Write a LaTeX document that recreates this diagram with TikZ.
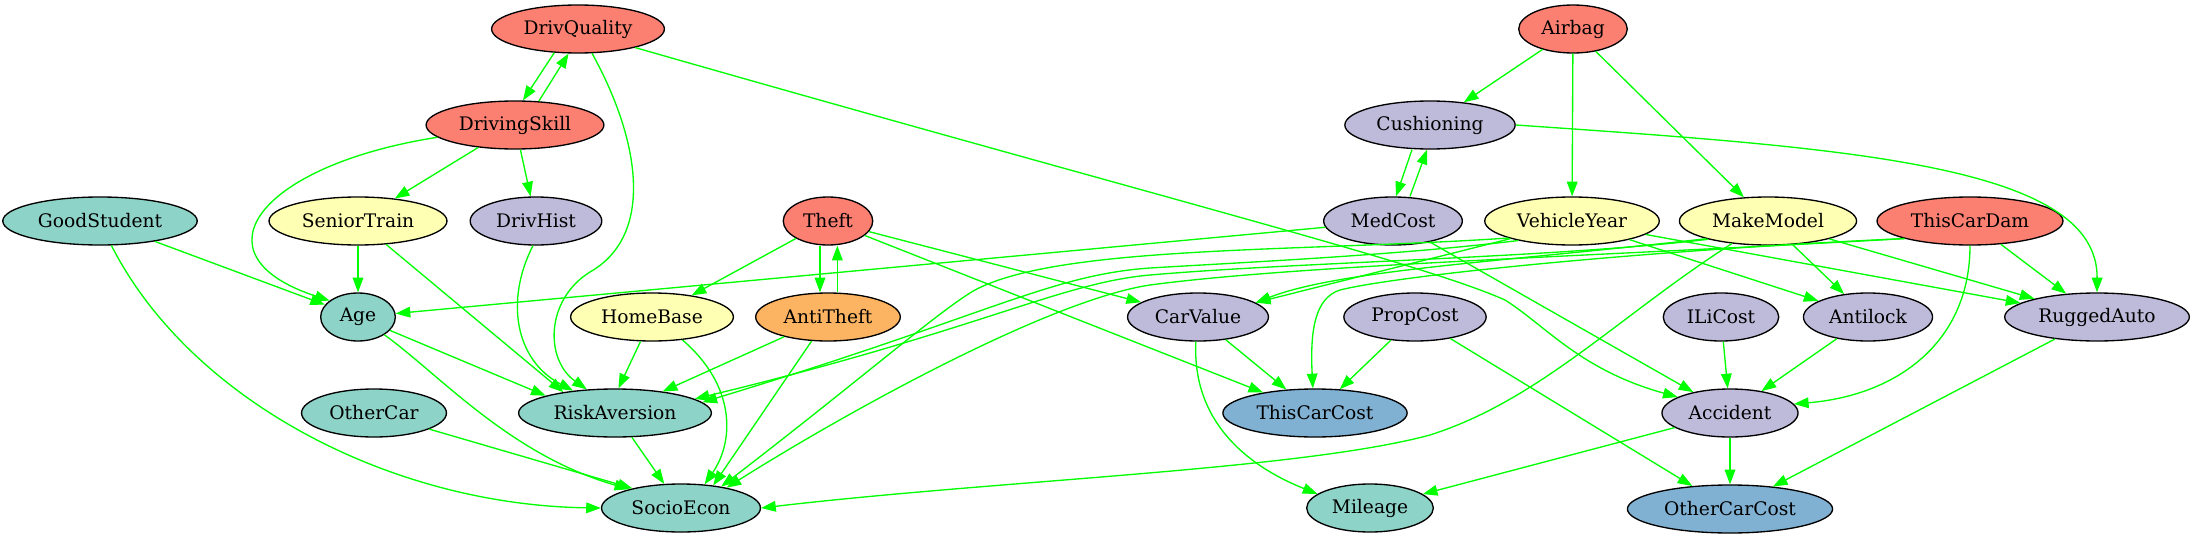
\documentclass[tikz,border=0pt]{standalone}
\usepackage{fontspec}
\setmainfont{DejaVu Serif}
\usepackage{tikz}
\usetikzlibrary{shapes.geometric, arrows.meta, positioning}

\definecolor{setred}{HTML}{FB8072}
\definecolor{setteal}{HTML}{8DD3C7}
\definecolor{setyellow}{HTML}{FFFFB3}
\definecolor{setpurple}{HTML}{BEBADA}
\definecolor{setblue}{HTML}{80B1D3}
\definecolor{setorange}{HTML}{FDB462}
\definecolor{linkgreen}{HTML}{00FF00}

\begin{document}
\begin{tikzpicture}[
    x=0.75pt, y=-0.75pt,
    var/.style={ellipse, draw, line width=1pt, font=\fontsize{14pt}{16pt}\selectfont,
        inner xsep=5pt, inner ysep=2pt, minimum width=56pt, minimum height=36pt},
    redvar/.style={var, fill=setred},
    tealvar/.style={var, fill=setteal},
    yellowvar/.style={var, fill=setyellow},
    purplevar/.style={var, fill=setpurple},
    bluevar/.style={var, fill=setblue},
    orangevar/.style={var, fill=setorange},
    dep/.style={draw=linkgreen, line width=1pt, -{Triangle[length=11pt, width=8pt]}}
]
    \useasboundingbox (0,0) rectangle (2193,539);

    % Top rows
    \node[redvar] (DrivQuality) at (578,29) {DrivQuality};
    \node[redvar] (Airbag) at (1573,29) {Airbag};
    \node[redvar] (DrivingSkill) at (515,125) {DrivingSkill};
    \node[purplevar] (Cushioning) at (1430,125) {Cushioning};

    % Third row
    \node[tealvar] (GoodStudent) at (100,221) {GoodStudent};
    \node[yellowvar] (SeniorTrain) at (358,221) {SeniorTrain};
    \node[purplevar] (DrivHist) at (536,221) {DrivHist};
    \node[redvar] (Theft) at (828,221) {Theft};
    \node[purplevar] (MedCost) at (1393,221) {MedCost};
    \node[yellowvar] (VehicleYear) at (1572,221) {VehicleYear};
    \node[yellowvar] (MakeModel) at (1768,221) {MakeModel};
    \node[redvar] (ThisCarDam) at (1970,221) {ThisCarDam};

    % Fourth row
    \node[tealvar] (Age) [below=35pt of SeniorTrain] {Age};
    \node[yellowvar] (HomeBase) at (652,317) {HomeBase};
    \node[orangevar] (AntiTheft) [below=35pt of Theft] {AntiTheft};
    \node[purplevar] (CarValue) at (1198,317) {CarValue};
    \node[purplevar] (PropCost) at (1415,317) {PropCost};
    \node[purplevar] (ILiCost) at (1721,317) {ILiCost};
    \node[purplevar] (Antilock) at (1868,317) {Antilock};
    \node[purplevar] (RuggedAuto) at (2097,317) {RuggedAuto};

    % Bottom rows
    \node[tealvar] (OtherCar) at (374,413) {OtherCar};
    \node[tealvar] (RiskAversion) at (615,413) {RiskAversion};
    \node[bluevar] (ThisCarCost) at (1315,413) {ThisCarCost};
    \node[purplevar] (Accident) at (1730,413) {Accident};
    \node[tealvar] (SocioEcon) at (681,508) {SocioEcon};
    \node[tealvar] (Mileage) at (1370,508) {Mileage};
    \node[bluevar] (OtherCarCost) [below=35pt of Accident] {OtherCarCost};

    % Driver side
    \draw[dep] (DrivQuality.225) -- (DrivingSkill.72);
    \draw[dep] (DrivingSkill.45) -- (DrivQuality.249);
    \draw[dep] (DrivQuality.300) .. controls (640,140) and (655,235) .. (590,272)
        .. controls (545,300) and (545,360) .. (RiskAversion.140);
    \draw[dep] (DrivQuality.342) .. controls (1150,195) and (1420,262) .. (1505,300)
        .. controls (1545,325) and (1580,370) .. (Accident.163);
    \draw[dep] (DrivingSkill) -- (SeniorTrain);
    \draw[dep] (DrivingSkill) -- (DrivHist);
    \draw[dep] (DrivingSkill.189) .. controls (260,165) and (190,255) .. (Age.150);
    \draw[dep] (GoodStudent) -- (Age);
    \draw[dep] (GoodStudent.295) .. controls (190,400) and (390,505) .. (SocioEcon.west);
    \draw[dep] (SeniorTrain) -- (Age);
    \draw[dep] (SeniorTrain) -- (RiskAversion.158);
    \draw[dep] (DrivHist.263) .. controls (505,300) and (515,360) .. (RiskAversion.152);
    \draw[dep] (Age) -- (RiskAversion.166);
    \draw[dep] (Age.326) .. controls (440,375) and (510,455) .. (SocioEcon.160);
    \draw[dep] (OtherCar) -- (SocioEcon.158);
    \draw[dep] (RiskAversion) -- (SocioEcon);

    % Theft
    \draw[dep] (Theft) -- (HomeBase);
    \draw[dep] ([xshift=-6pt]Theft.south) -- ([xshift=-6pt]AntiTheft.north);
    \draw[dep] ([xshift=7pt]AntiTheft.north) -- ([xshift=7pt]Theft.south);
    \draw[dep] (Theft) -- (CarValue);
    \draw[dep] (Theft) -- (ThisCarCost);
    \draw[dep] (HomeBase) -- (RiskAversion.82);
    \draw[dep] (HomeBase.323) .. controls (735,385) and (735,440) .. (SocioEcon.45);
    \draw[dep] (AntiTheft) -- (RiskAversion);
    \draw[dep] (AntiTheft) -- (SocioEcon.35);

    % Medical cost and airbag
    \draw[dep] (MedCost) -- (Age);
    \draw[dep] ([xshift=-13.5pt]Cushioning.south) -- ([xshift=2.25pt]MedCost.north);
    \draw[dep] ([xshift=12.75pt]MedCost.north) -- ([xshift=-2.25pt]Cushioning.south);
    \draw[dep] (MedCost) -- (Accident);
    \draw[dep] (Airbag) -- (Cushioning);
    \draw[dep] (Airbag) -- (VehicleYear);
    \draw[dep] (Airbag) -- (MakeModel);
    \draw[dep] (Cushioning.east) .. controls (1850,148) and (2098,165) .. (RuggedAuto.north);

    % Vehicle
    \draw[dep] (VehicleYear.196) -- (CarValue.14);
    \draw[dep] (VehicleYear.195) .. controls (1300,252) and (1060,245) .. (975,290)
        .. controls (940,310) and (860,380) .. (SocioEcon.28);
    \draw[dep] (VehicleYear.200) .. controls (1400,255) and (1250,262) .. (1150,268)
        .. controls (1050,275) and (990,315) .. (RiskAversion.7);
    \draw[dep] (VehicleYear) -- (Antilock);
    \draw[dep] (VehicleYear) -- (RuggedAuto);
    \draw[dep] (MakeModel.196) .. controls (1500,262) and (1340,270) .. (CarValue.14);
    \draw[dep] (MakeModel.197) .. controls (1550,258) and (1300,262) .. (1150,275)
        .. controls (1060,283) and (980,330) .. (RiskAversion.10);
    \draw[dep] (MakeModel.212) .. controls (1620,315) and (1540,400) .. (1430,435)
        .. controls (1300,470) and (1000,480) .. (SocioEcon.east);
    \draw[dep] (MakeModel) -- (Antilock);
    \draw[dep] (MakeModel) -- (RuggedAuto);
    \draw[dep] (ThisCarDam.195) .. controls (1650,250) and (1400,275) .. (1340,290)
        .. controls (1315,298) and (1310,330) .. (ThisCarCost.95);
    \draw[dep] (ThisCarDam.195) .. controls (1600,256) and (1300,265) .. (1150,285)
        .. controls (1050,300) and (850,410) .. (SocioEcon.24);
    \draw[dep] (ThisCarDam) -- (RuggedAuto);
    \draw[dep] (ThisCarDam.270) .. controls (1970,340) and (1900,395) .. (Accident.8);

    % Costs
    \draw[dep] (CarValue) -- (ThisCarCost);
    \draw[dep] (CarValue.265) .. controls (1192,420) and (1245,465) .. (Mileage.165);
    \draw[dep] (PropCost) -- (ThisCarCost);
    \draw[dep] (PropCost) -- (OtherCarCost);
    \draw[dep] (ILiCost) -- (Accident);
    \draw[dep] (Antilock) -- (Accident);
    \draw[dep] (RuggedAuto) -- (OtherCarCost);
    \draw[dep] (Accident) -- (Mileage);
    \draw[dep] (Accident) -- (OtherCarCost);
\end{tikzpicture}
\end{document}
